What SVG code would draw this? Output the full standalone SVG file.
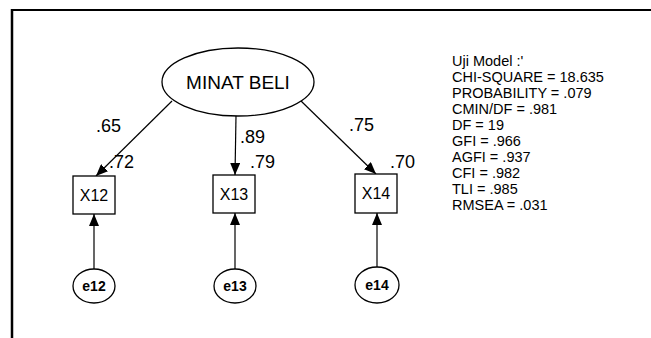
<svg xmlns="http://www.w3.org/2000/svg" width="651" height="338" viewBox="0 0 651 338">
<defs>
<style>
text{font-family:"Liberation Sans",Arial,sans-serif;fill:#000}
.lbl{font-size:18px}
.obs{font-size:16px;text-anchor:middle}
.err{font-size:14px;text-anchor:middle;font-weight:bold}
.st{font-size:14.5px}
.node{fill:#fff;stroke:#000;stroke-width:1.3}
.edge{stroke:#000;stroke-width:1.2;fill:none;marker-end:url(#ah)}
</style>
<marker id="ah" viewBox="0 0 12 10" refX="12" refY="5" markerWidth="12" markerHeight="10" markerUnits="userSpaceOnUse" orient="auto">
<path d="M0,0 L12,5 L0,10 z" fill="#000"/>
</marker>
</defs>
<rect x="0" y="0" width="651" height="338" fill="#fff"/>
<g id="frame">
<line x1="11" y1="10" x2="651" y2="10" stroke="#000" stroke-width="2"/>
<line x1="12" y1="9" x2="12" y2="338" stroke="#000" stroke-width="2.5"/>
</g>
<g id="connectors">
<line class="edge" x1="172" y1="101" x2="96" y2="176"/>
<line class="edge" x1="236" y1="116" x2="235" y2="175"/>
<line class="edge" x1="300" y1="100" x2="376" y2="174"/>
<line class="edge" x1="94" y1="269" x2="94" y2="214"/>
<line class="edge" x1="235" y1="269" x2="235" y2="213"/>
<line class="edge" x1="377" y1="267" x2="377" y2="213"/>
</g>
<g id="minat-beli">
<ellipse class="node" cx="238" cy="82" rx="76" ry="34"/>
<text x="238" y="89" font-size="19" text-anchor="middle">MINAT BELI</text>
</g>
<g id="x12">
<rect class="node" x="73" y="176" width="42" height="38"/>
<text class="obs" x="94" y="201">X12</text>
</g>
<g id="x13">
<rect class="node" x="213" y="175" width="42" height="38"/>
<text class="obs" x="234" y="200">X13</text>
</g>
<g id="x14">
<rect class="node" x="355" y="174" width="42" height="39"/>
<text class="obs" x="376" y="199">X14</text>
</g>
<g id="e12">
<ellipse class="node" cx="94" cy="286" rx="21" ry="17"/>
<text class="err" x="94" y="291">e12</text>
</g>
<g id="e13">
<ellipse class="node" cx="235" cy="286" rx="21" ry="17"/>
<text class="err" x="235" y="291">e13</text>
</g>
<g id="e14">
<ellipse class="node" cx="377" cy="285" rx="22" ry="18"/>
<text class="err" x="377" y="290">e14</text>
</g>
<g id="labels">
<text class="lbl" x="96" y="132">.65</text>
<text class="lbl" x="109" y="168">.72</text>
<text class="lbl" x="240" y="143">.89</text>
<text class="lbl" x="250" y="168">.79</text>
<text class="lbl" x="349" y="131">.75</text>
<text class="lbl" x="390" y="168">.70</text>
</g>
<g id="stats">
<text class="st" x="452" y="66">Uji Model :'</text>
<text class="st" x="452" y="82">CHI-SQUARE = 18.635</text>
<text class="st" x="452" y="98">PROBABILITY = .079</text>
<text class="st" x="452" y="114">CMIN/DF = .981</text>
<text class="st" x="452" y="130">DF = 19</text>
<text class="st" x="452" y="146">GFI = .966</text>
<text class="st" x="452" y="162">AGFI = .937</text>
<text class="st" x="452" y="178">CFI = .982</text>
<text class="st" x="452" y="194">TLI = .985</text>
<text class="st" x="452" y="210">RMSEA = .031</text>
</g>
</svg>
